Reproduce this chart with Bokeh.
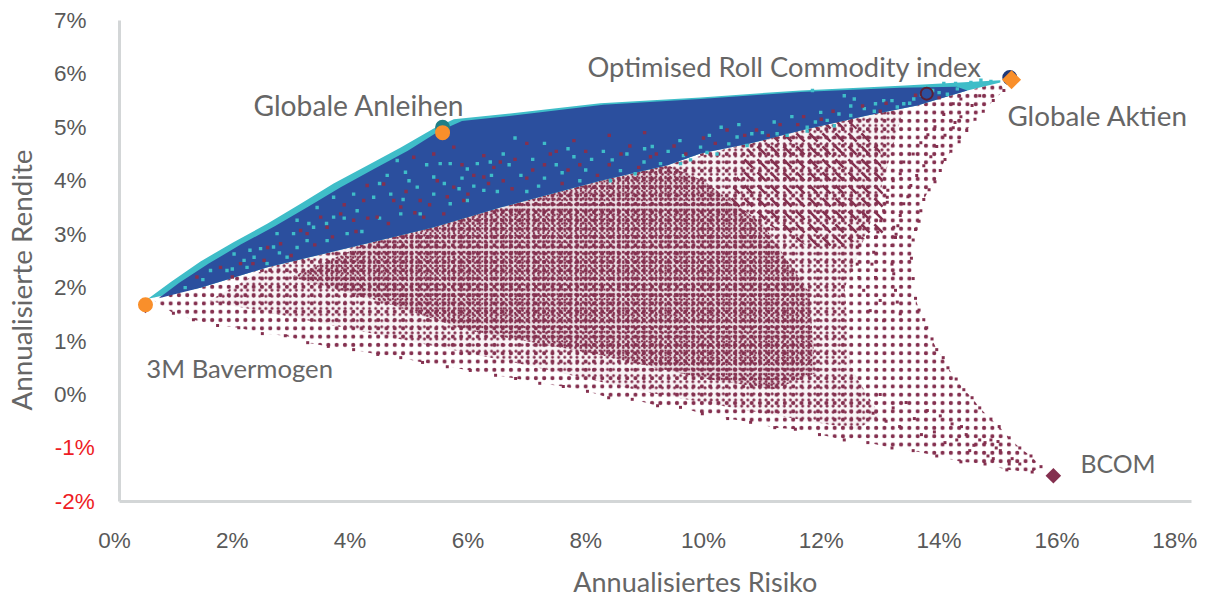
from math import pi
from bokeh.core.properties import value
from bokeh.embed import file_html
from bokeh.models import FixedTicker, LinearAxis, Range1d
from bokeh.plotting import figure
from bokeh.resources import INLINE

# ---- axis ticks (percent) ----
x_ticks = [0, 2, 4, 6, 8, 10, 12, 14, 16, 18]
y_ticks_pos = [0, 1, 2, 3, 4, 5, 6, 7]
y_ticks_neg = [-2, -1]

# ---- named assets: risk %, return % ----
cash_x, cash_y = 0.526, 1.68
cash_back_y = 1.64
bonds_x, bonds_y = 5.57, 4.90
bonds_back_y = 5.00
equity_x, equity_y = 15.23, 5.89
equity_back_x, equity_back_y = 15.20, 5.93
orc_x, orc_y = 13.79, 5.63
bcom_x, bcom_y = 15.94, -1.52

# ---- efficient-frontier upper edge (teal band) ----
top_x = [0.53, 0.95, 1.46, 2.02, 2.60, 3.16, 3.72, 4.30, 4.86, 5.42, 5.76, 6.55, 8.25, 9.95, 11.65, 13.34, 15.04]
top_y = [1.76, 2.10, 2.49, 2.85, 3.20, 3.57, 3.95, 4.29, 4.62, 4.98, 5.15, 5.24, 5.45, 5.56, 5.69, 5.78, 5.88]
# upper edge of solid blue
blue_top_x = [0.75, 1.10, 1.60, 2.15, 2.72, 3.28, 3.84, 4.42, 4.98, 5.50, 5.90, 6.70, 8.30, 9.95, 11.65, 13.34, 14.30]
blue_top_y = [1.80, 2.09, 2.45, 2.81, 3.15, 3.51, 3.88, 4.23, 4.56, 4.92, 5.12, 5.21, 5.42, 5.53, 5.66, 5.74, 5.76]
# lower edge of blue band
low_x = [0.61, 1.46, 2.60, 4.30, 5.42, 6.55, 8.25, 9.39, 9.95, 10.80, 11.65, 12.78, 13.63, 14.48, 15.04]
low_y = [1.80, 2.00, 2.38, 2.83, 3.13, 3.50, 4.00, 4.29, 4.51, 4.70, 4.94, 5.22, 5.41, 5.69, 5.84]

# ---- lower envelope of the portfolio cloud ----
edge_low_x = [1.00, 1.34, 1.75, 2.11, 2.51, 2.90, 3.28, 3.63, 4.06, 4.47, 4.86, 5.23, 5.65, 6.04, 6.47, 6.81, 7.22,
              7.62, 8.03, 8.39, 8.79, 9.22, 9.61, 9.98, 10.41, 10.80, 11.21, 11.56, 11.97, 12.39, 12.79, 13.20,
              13.56, 13.96, 14.37, 14.78, 15.15, 15.58, 15.73]
edge_low_y = [1.52, 1.40, 1.29, 1.25, 1.14, 1.10, 0.97, 0.90, 0.84, 0.75, 0.69, 0.60, 0.52, 0.45, 0.36, 0.30, 0.21,
              0.15, 0.06, -0.06, -0.09, -0.21, -0.24, -0.36, -0.45, -0.52, -0.62, -0.65, -0.75, -0.85, -0.90, -1.00,
              -1.05, -1.15, -1.26, -1.30, -1.41, -1.45, -1.35]
# ---- outermost arc, from BCOM back up to global equities ----
edge_right_x = [15.56, 15.37, 15.19, 15.02, 14.88, 14.69, 14.56, 14.42, 14.29, 14.15, 14.07, 13.96, 13.88, 13.79, 13.74,
                13.66, 13.60, 13.56, 13.53, 13.56, 13.60, 13.61, 13.66, 13.69, 13.74, 13.83, 13.93, 14.02, 14.10,
                14.20, 14.34, 14.47, 14.61, 14.75, 14.92, 15.10]
edge_right_y = [-1.15, -1.00, -0.81, -0.60, -0.46, -0.25, -0.06, 0.09, 0.29, 0.50, 0.69, 0.84, 1.04, 1.25, 1.40,
                1.58, 1.80, 2.17, 2.55, 2.89, 3.09, 3.10, 3.24, 3.44, 3.65, 3.83, 3.98, 4.19, 4.40,
                4.55, 4.73, 4.94, 5.15, 5.30, 5.50, 5.69]
# ---- further individual portfolios read near the sparse right side ----
arc_x = [14.69, 14.56, 14.37, 14.27, 14.24, 14.10, 13.96, 13.86, 13.74, 13.62, 13.52, 13.47, 13.40, 13.34, 13.30, 13.27,
         14.37, 14.24, 14.08, 13.93, 13.81, 13.69, 13.56, 13.40, 13.34, 13.22, 13.13, 13.12, 13.06, 13.01, 12.96,
         13.12, 13.23, 13.26, 13.20, 13.20, 13.23, 13.26, 13.29, 13.34,
         12.72, 12.66, 12.64, 12.61, 12.61, 12.64, 12.72, 12.83, 12.92, 12.89, 12.86, 12.92, 13.00, 13.06,
         15.37, 15.19, 15.24, 15.04, 15.00, 14.88, 14.97, 14.92, 14.83, 14.78, 14.69, 14.59, 14.52, 14.46, 14.38,
         14.30, 14.22, 14.10, 14.02, 13.92, 13.80, 13.70, 13.58, 13.44, 13.33, 13.22, 13.10, 13.00, 12.88]
arc_y = [5.59, 5.41, 5.20, 5.09, 4.99, 4.85, 4.64, 4.45, 4.28, 4.10, 3.91, 3.70, 3.57, 3.35, 3.16, 3.00,
         5.53, 5.44, 5.24, 5.01, 4.86, 4.71, 4.50, 4.35, 4.13, 4.00, 3.82, 3.69, 3.44, 3.25, 3.04,
         3.60, 3.13, 2.94, 2.79, 2.44, 2.26, 1.95, 1.73, 1.51,
         3.38, 3.13, 2.94, 2.76, 2.44, 2.19, 1.95, 1.57, 2.94, 2.66, 2.44, 2.19, 1.76, 1.38,
         -1.30, -1.30, -1.20, -1.05, -0.88, -0.85, -1.00, -1.20, -1.15, -0.90, -0.85, -0.95, -1.05, -0.75, -0.60,
         -0.85, -0.55, -0.90, -0.40, -0.70, -0.30, -0.75, -0.45, -0.15, -0.60, -0.25, -0.50, 0.00, -0.35]
# ---- portfolios showing through the frontier band ----
teal_x = [4.63, 4.94, 4.80, 4.06, 3.72, 3.44, 3.10, 2.76, 2.48, 2.20, 1.91, 1.63, 5.70, 5.53, 5.99, 6.16, 6.38, 5.42,
          5.99, 5.70, 5.14, 4.69, 4.40, 4.12, 3.72, 3.38, 3.04, 2.70, 2.37, 2.03, 3.95, 3.61, 3.27, 2.93, 2.59, 2.25,
          4.86, 5.19, 5.42, 6.27, 9.13, 8.99, 8.45, 8.42, 8.84, 8.59, 9.27, 9.66, 9.95, 10.06, 10.23, 10.43, 10.74,
          10.57, 10.82, 11.25, 11.42, 11.76, 9.78, 9.61, 11.85, 12.39, 12.56, 12.92, 13.29, 13.40, 13.57, 13.89,
          14.14, 14.31, 14.08, 14.28, 14.54, 14.71, 14.88, 12.10, 12.22, 11.76, 11.99, 12.50, 12.73, 13.06,
          6.6, 6.9, 7.2, 7.5, 7.7, 7.9, 8.1, 6.8, 7.3, 7.0,
          1.2, 1.5, 2.0, 2.3, 2.8, 3.1, 3.3, 3.6, 3.9, 4.2, 4.5, 4.5, 4.9, 5.0, 5.3, 5.6, 5.85, 5.9, 6.1, 6.4, 6.5, 6.7,
          7.1, 7.3, 7.6, 7.8, 8.0, 8.3, 8.7, 9.0, 9.4, 9.6, 10.1, 10.3, 10.6, 11.0, 11.2, 11.5, 11.9, 12.3, 12.5, 12.9,
          13.2, 13.5, 13.7, 14.0]
teal_y = [4.10, 4.16, 4.38, 3.75, 3.69, 3.50, 3.26, 3.01, 2.73, 2.51, 2.32, 2.32, 4.32, 4.32, 4.22, 4.32, 4.35, 4.07,
          3.63, 3.57, 3.88, 3.75, 3.69, 3.44, 3.32, 3.13, 3.01, 2.76, 2.57, 2.63, 3.01, 2.88, 2.88, 2.57, 2.45, 2.38,
          3.38, 3.38, 3.75, 3.82, 4.64, 4.35, 4.39, 4.00, 4.13, 4.19, 4.32, 4.47, 4.63, 4.53, 4.50, 4.69, 4.66,
          4.82, 4.88, 4.88, 4.85, 4.93, 4.39, 4.32, 5.69, 5.59, 5.53, 5.44, 5.38, 5.44, 5.53, 5.69,
          5.62, 5.72, 5.82, 5.82, 5.84, 5.88, 5.86, 5.13, 5.03, 5.00, 5.28, 5.22, 5.35, 5.50,
          4.5, 4.1, 3.9, 4.3, 4.6, 4.0, 4.4, 4.8, 4.7, 3.8,
          2.0, 2.15, 2.35, 2.7, 2.65, 2.75, 3.2, 3.2, 3.3, 3.05, 3.3, 3.95, 3.65, 4.0, 4.3, 3.95, 3.85, 4.05, 3.9, 4.1, 3.8, 4.3,
          4.4, 4.05, 4.15, 4.45, 4.2, 4.55, 4.5, 4.6, 4.55, 4.75, 4.85, 5.0, 5.05, 4.9, 5.1, 5.2, 5.1, 5.25, 5.4, 5.3,
          5.5, 5.45, 5.6, 5.65]
speck_x = [4.29, 4.57, 4.74, 4.23, 3.84, 3.50, 3.16, 2.82, 2.54, 2.14, 1.80, 1.40, 5.08, 5.42, 5.76, 6.27, 6.44, 6.10,
           5.76, 5.48, 5.19, 4.86, 4.46, 4.06, 3.61, 3.27, 6.27, 5.93, 5.59, 5.25,
           6.8, 7.1, 7.4, 7.6, 7.9, 8.2, 8.6, 8.9, 9.2, 9.5, 10.0, 10.4, 10.9, 11.3, 11.7, 12.2, 12.7, 13.1, 13.6, 14.0,
           6.6, 7.0, 7.8, 8.4, 9.0,
           2.0, 2.35, 2.6, 3.0, 3.4, 3.7, 3.9, 4.1, 4.3, 4.65, 4.95, 5.1, 5.35, 5.65, 5.9, 6.0, 6.35, 6.55, 6.75, 7.0, 7.3,
           7.5, 7.7, 8.0, 8.4, 8.75, 9.1, 9.7, 10.2, 10.7, 11.1, 11.6, 12.0, 12.5, 13.0]
speck_y = [3.91, 3.94, 3.63, 3.63, 3.38, 3.32, 3.07, 2.82, 2.51, 2.45, 2.38, 2.20, 4.44, 4.50, 4.63, 4.47, 4.25, 4.10,
           3.88, 4.00, 3.63, 3.51, 3.32, 3.26, 3.13, 3.01, 4.07, 3.63, 3.38, 3.32,
           4.4, 4.2, 4.5, 3.95, 4.3, 4.1, 4.5, 4.25, 4.5, 4.65, 4.8, 4.95, 4.95, 5.05, 5.2, 5.3, 5.4, 5.45, 5.6, 5.55,
           4.0, 4.7, 4.75, 4.85, 4.9,
           2.2, 2.45, 2.75, 2.6, 2.8, 2.95, 3.55, 3.05, 3.3, 3.2, 3.8, 3.4, 3.55, 3.7, 4.3, 3.75, 3.95, 4.35, 3.85, 4.05, 4.3,
           4.55, 4.2, 4.55, 4.3, 4.65, 4.45, 4.5, 4.7, 4.85, 4.85, 5.05, 5.15, 5.1, 5.3]
# ---- outlines of denser parts of the cloud ----
mid_x = [1.6, 3.0, 5.0, 7.0, 9.0, 11.0, 12.6, 13.0, 12.5, 12.4, 12.9, 13.4, 12.0, 9.39, 8.25, 6.55, 4.30, 2.60]
mid_y = [1.75, 1.45, 1.00, 0.55, 0.05, -0.35, -0.65, -0.40, 0.50, 2.00, 3.40, 5.35, 5.10, 4.29, 4.00, 3.50, 2.83, 2.38]
core_x = [3.0, 4.5, 6.0, 8.2, 10.0, 11.2, 11.9, 11.8, 11.0, 10.0, 9.39, 8.25, 6.55, 4.30]
core_y = [2.20, 1.75, 1.20, 0.75, 0.30, 0.10, 0.40, 1.90, 3.20, 4.00, 4.29, 4.00, 3.50, 2.83]
streak_x = [10.4, 11.9, 13.1, 13.0, 12.3, 11.8, 10.8]
streak_y = [3.6, 2.7, 3.0, 4.6, 5.30, 5.10, 4.70]

MAROON = "#84304F"
BLUE = "#2B4F9E"
TEAL = "#3FBDC8"
ORANGE = "#F98F2B"
GREY = "#666666"
AXIS = "#D3D6D7"
TITLE_FONT = "Lato"
TICK_FONT = "Liberation Sans"

p = figure(width=1205, height=598, output_backend="svg", toolbar_location=None,
           x_range=Range1d(-1.9355, 18.523), y_range=Range1d(-3.817, 7.373),
           x_axis_type=None, y_axis_type=None, min_border=0,
           outline_line_color=None)
p.grid.visible = False


def make_axis(ticks, loc, color, standoff, bounds, line=None, cls_side="left"):
    ax = LinearAxis(ticker=FixedTicker(ticks=ticks), fixed_location=loc, bounds=bounds,
                    major_tick_line_color=None, minor_tick_line_color=None,
                    major_label_text_color=color, major_label_text_font=TICK_FONT,
                    major_label_text_font_size="22.5px", major_label_standoff=standoff,
                    major_label_overrides={t: f"{t}%" for t in ticks},
                    axis_line_color=line, axis_line_width=3)
    p.add_layout(ax, cls_side)
    return ax


make_axis(y_ticks_pos, -0.373, "#595959", 0, (-2, 7))
make_axis(y_ticks_neg, -0.233, "#EE1C25", 0, (-2, 7))
make_axis([], 0.085, GREY, 0, (-2, 7), line=AXIS)
make_axis(x_ticks, -2.0, "#595959", 21, (0.085, 18.285), line=AXIS, cls_side="below")

# cloud: light tint and texture only, inside outlines
cloud_x = edge_low_x + edge_right_x + low_x[::-1]
cloud_y = edge_low_y + edge_right_y + low_y[::-1]
for xs, ys, tint in [(mid_x, mid_y, 0.05), (core_x, core_y, 0.10)]:
    p.patch(xs, ys, fill_color=MAROON, fill_alpha=tint, line_color=None)
for xs, ys, pattern, scale, weight in [
    (cloud_x, cloud_y, "dot", 8.3, 2.8),
    (mid_x, mid_y, "dot", 6.1, 2.8),
    (core_x, core_y, "dot", 4.7, 2.8),
    (core_x, core_y, "dot", 5.3, 2.8),
    (streak_x, streak_y, "left_diagonal_dash", 13, 2.5),
]:
    p.patch(xs, ys, fill_color=None, line_color=None, hatch_pattern=pattern,
            hatch_color=MAROON, hatch_scale=scale, hatch_weight=weight)
p.scatter(edge_low_x + edge_right_x + arc_x, edge_low_y + edge_right_y + arc_y,
          marker="square", size=3, fill_color=MAROON, line_color=None)

# frontier band
p.patch(top_x + low_x[::-1], top_y + low_y[::-1], fill_color=TEAL, line_color=None)
p.patch(blue_top_x + low_x[::-1][1:-1], blue_top_y + low_y[::-1][1:-1], fill_color=BLUE, line_color=None)
p.scatter(teal_x, teal_y, marker="square", size=3.4, fill_color=TEAL, line_color=None)
p.scatter(speck_x, speck_y, marker="square", size=3.4, fill_color=MAROON, line_color=None)

# assets
p.scatter([cash_x], [cash_back_y], marker="square", angle=pi / 4, size=9, fill_color=MAROON, line_color=None)
p.scatter([bonds_x], [bonds_back_y], marker="circle", size=15, fill_color="#1F7F86", line_color=None)
p.scatter([equity_back_x], [equity_back_y], marker="circle", size=15, fill_color="#1F3A7A", line_color=None)
p.scatter([orc_x], [orc_y], marker="circle", size=12, fill_color=BLUE, line_color="#5C1F33", line_width=2)
p.scatter([cash_x, bonds_x], [cash_y, bonds_y], marker="circle", size=15, fill_color=ORANGE, line_color=None)
p.scatter([equity_x], [equity_y], marker="square", angle=pi / 4, size=13.5, fill_color=ORANGE, line_color=None)
p.scatter([bcom_x], [bcom_y], marker="square", angle=pi / 4, size=11, fill_color=MAROON, line_color=None)


def label(txt, x, y, size, angle=0.0):
    p.text([x], [y], text=[txt], text_font=value(TITLE_FONT), text_font_size=size, text_color=GREY,
           text_align="left", text_baseline="middle", angle=angle)


label("Optimised Roll Commodity index", 8.03, 6.14, "27.3px")
label("Globale Anleihen", 2.36, 5.41, "28.2px")
label("Globale Aktien", 15.16, 5.22, "27.8px")
label("3M Bavermogen", 0.54, 0.505, "25.7px")
label("BCOM", 16.40, -1.29, "24.8px")
label("Annualisiertes Risiko", 7.79, -3.50, "27px")
label("Annualisierte Rendite", -1.58, -0.30, "27.8px", angle=pi / 2)

open("out.html", "w").write(file_html(p, INLINE))
